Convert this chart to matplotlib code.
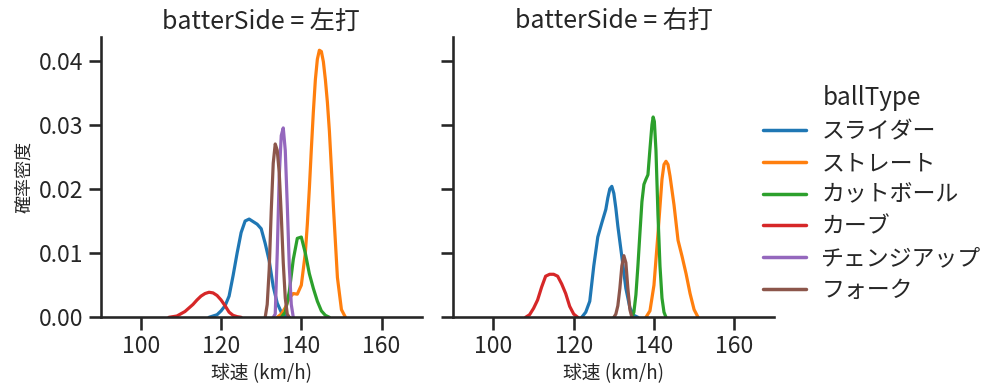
import matplotlib
matplotlib.use("Agg")
import matplotlib.pyplot as plt
import seaborn as sns

# densities (球速 km/h, 確率密度)
sides = ['左打', '右打']
ball_types = ['スライダー', 'ストレート', 'カットボール', 'カーブ', 'チェンジアップ', 'フォーク']
colors = ['#1f77b4', '#ff7f0e', '#2ca02c', '#d62728', '#9467bd', '#8c564b']

# 左打
left_slider_x = [117, 119, 120, 121, 122, 123, 124, 125, 126, 127, 128, 129, 130, 131, 132, 133, 134, 135, 136, 137]
left_slider_y = [0, 0.0004, 0.0010, 0.0018, 0.0033, 0.0065, 0.0100, 0.0132, 0.0150, 0.0153, 0.0149, 0.0145,
                 0.0138, 0.0115, 0.0088, 0.0048, 0.0022, 0.0008, 0.0002, 0]
left_straight_x = [134, 135, 136, 137, 138, 139, 140, 141, 141.5, 142, 142.5, 143, 143.5, 144, 144.5, 145,
                   145.5, 146, 146.5, 147, 147.5, 148, 149, 150, 151]
left_straight_y = [0, 0.0005, 0.0015, 0.0030, 0.0037, 0.0036, 0.0050, 0.0100, 0.0145, 0.0200, 0.0262, 0.0320,
                   0.0370, 0.0402, 0.0416, 0.0414, 0.0398, 0.0370, 0.0335, 0.0290, 0.0232, 0.0172, 0.0062,
                   0.0012, 0]
left_cut_x = [135, 136, 137, 138, 139, 140, 141, 142, 143, 144, 145, 146, 147]
left_cut_y = [0, 0.0008, 0.0040, 0.0090, 0.0123, 0.0125, 0.0100, 0.0068, 0.0045, 0.0025, 0.0010, 0.0003, 0]
left_curve_x = [107, 109, 111, 113, 114, 115, 116, 117, 118, 119, 120, 121, 122, 123, 124, 125]
left_curve_y = [0, 0.0002, 0.0009, 0.0020, 0.0027, 0.0033, 0.0037, 0.0039, 0.0038, 0.0034, 0.0027, 0.0018,
                0.0008, 0.0003, 0.0001, 0]
left_change_x = [133, 133.5, 134, 134.5, 135, 135.5, 136, 136.5, 137, 137.5, 138]
left_change_y = [0, 0.0005, 0.0100, 0.0220, 0.0283, 0.0295, 0.0260, 0.0175, 0.0080, 0.0020, 0]
left_fork_x = [131, 131.5, 132, 132.5, 133, 133.5, 134, 134.5, 135, 135.5, 136, 136.5, 137]
left_fork_y = [0, 0.0020, 0.0075, 0.0165, 0.0240, 0.0270, 0.0260, 0.0225, 0.0160, 0.0085, 0.0030, 0.0005, 0]

# 右打
right_slider_x = [122, 123, 124, 125, 126, 127, 128, 128.5, 129, 129.5, 130, 130.5, 131, 132, 133, 134, 135, 136]
right_slider_y = [0, 0.0008, 0.0025, 0.0080, 0.0125, 0.0147, 0.0168, 0.0186, 0.0200, 0.0204, 0.0193, 0.0170,
                  0.0142, 0.0094, 0.0045, 0.0015, 0.0003, 0]
right_straight_x = [138, 139, 140, 141, 142, 142.5, 143, 143.5, 144, 145, 146, 147, 148, 149, 150, 151]
right_straight_y = [0, 0.0010, 0.0050, 0.0130, 0.0215, 0.0238, 0.0243, 0.0238, 0.0220, 0.0175, 0.0120, 0.0095,
                    0.0068, 0.0037, 0.0012, 0]
right_cut_x = [134.5, 135, 135.5, 136, 136.5, 137, 137.5, 138, 138.5, 139, 139.5, 139.8, 140.1, 140.5, 141,
               141.5, 142, 142.5, 143]
right_cut_y = [0, 0.0008, 0.0035, 0.0080, 0.0131, 0.0180, 0.0207, 0.0215, 0.0222, 0.0262, 0.0300, 0.0312,
               0.0305, 0.0260, 0.0160, 0.0080, 0.0030, 0.0008, 0]
right_curve_x = [108, 109, 110, 111, 112, 113, 114, 115, 116, 117, 118, 119, 120, 121]
right_curve_y = [0, 0.0004, 0.0014, 0.0027, 0.0047, 0.0064, 0.0067, 0.0067, 0.0064, 0.0052, 0.0037, 0.0017,
                 0.0005, 0]
right_fork_x = [130, 130.5, 131, 131.5, 132, 132.5, 133, 133.5, 134, 134.5]
right_fork_y = [0, 0.0005, 0.0018, 0.0045, 0.0080, 0.0096, 0.0085, 0.0045, 0.0012, 0]

curves = {
    '左打': {
        'スライダー': (left_slider_x, left_slider_y),
        'ストレート': (left_straight_x, left_straight_y),
        'カットボール': (left_cut_x, left_cut_y),
        'カーブ': (left_curve_x, left_curve_y),
        'チェンジアップ': (left_change_x, left_change_y),
        'フォーク': (left_fork_x, left_fork_y),
    },
    '右打': {
        'スライダー': (right_slider_x, right_slider_y),
        'ストレート': (right_straight_x, right_straight_y),
        'カットボール': (right_cut_x, right_cut_y),
        'カーブ': (right_curve_x, right_curve_y),
        'フォーク': (right_fork_x, right_fork_y),
    },
}

sns.set_theme(context='talk', style='ticks')
plt.rcParams['font.family'] = ['Noto Sans CJK JP', 'DejaVu Sans']

fig = plt.figure(figsize=(9.99, 3.91), dpi=100)
ax1 = fig.add_axes([0.1008, 0.1885, 0.3213, 0.7175])
ax2 = fig.add_axes([0.4538, 0.1885, 0.3213, 0.7175], sharex=ax1, sharey=ax1)

for ax, side in zip([ax1, ax2], sides):
    for bt, c in zip(ball_types, colors):
        if bt in curves[side]:
            xs, ys = curves[side][bt]
            ax.plot(xs, ys, color=c, lw=2.3)
    ax.set_title('batterSide = ' + side, fontsize=18)
    ax.set_xlabel('球速 (km/h)', fontsize=13.5)
    sns.despine(ax=ax)

ax1.set_xlim(90, 170)
ax1.set_ylim(0, 0.0437)
ax1.set_xticks([100, 120, 140, 160])
ax1.set_yticks([0, 0.01, 0.02, 0.03, 0.04])
ax1.set_ylabel('確率密度', fontsize=13)
ax2.tick_params(labelleft=False)

handles = [plt.Line2D([], [], color=c, lw=2.5) for c in colors]
fig.legend(handles, ball_types, title='ballType', loc='center left', bbox_to_anchor=(0.743, 0.505),
           frameon=False, fontsize=16.5, title_fontsize=17.5, handlelength=1.9, handletextpad=0.65,
           labelspacing=0.38)

fig.savefig('out.png', dpi=100)
